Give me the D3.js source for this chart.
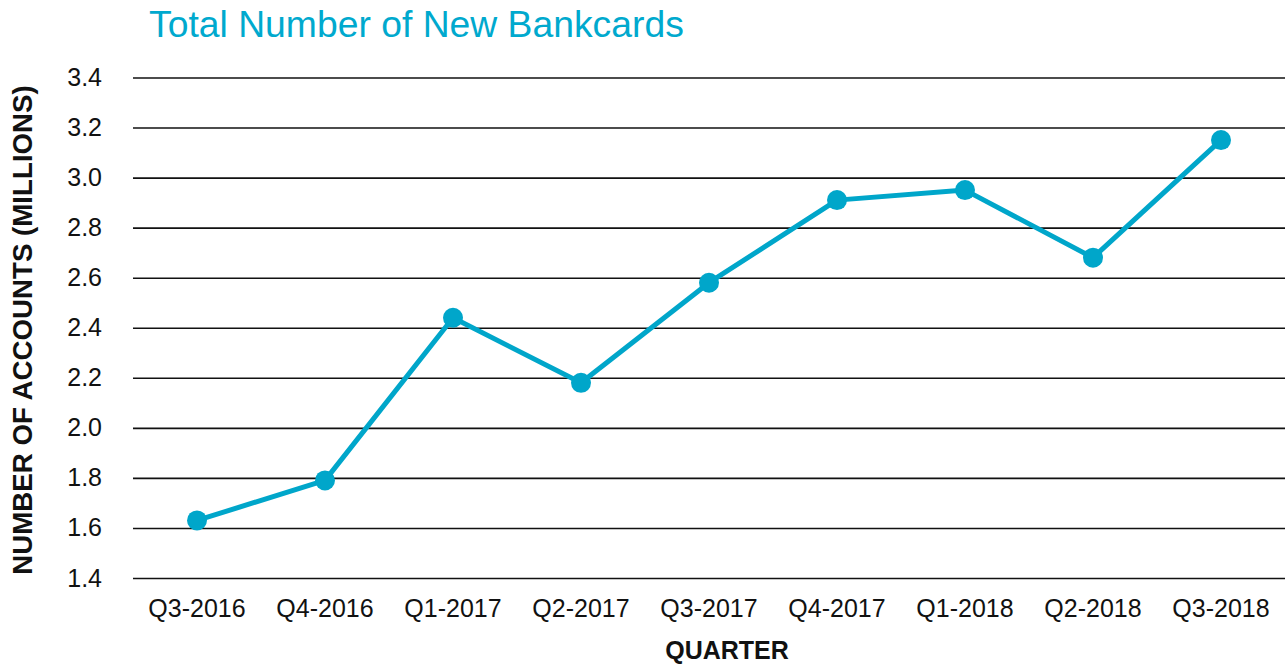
<!DOCTYPE html>
<meta charset="utf-8">
<style>
  body { margin: 0; background: #fff; }
  text { font-family: "Liberation Sans", Arial, sans-serif; }
</style>
<body>
<script src="https://d3js.org/d3.v7.min.js"></script>
<script>

// data
var quarters = ["Q3-2016", "Q4-2016", "Q1-2017", "Q2-2017", "Q3-2017",
                "Q4-2017", "Q1-2018", "Q2-2018", "Q3-2018"];
var accounts = [1.63, 1.79, 2.44, 2.18, 2.58, 2.91, 2.95, 2.68, 3.15];
var yTicks = [1.4, 1.6, 1.8, 2.0, 2.2, 2.4, 2.6, 2.8, 3.0, 3.2, 3.4];

var W = 1287, H = 668;
var margin = {top: 77.5, right: 2, bottom: 90, left: 133};
var width = W - margin.left - margin.right,
    height = H - margin.top - margin.bottom;
var teal = "#00a6ca";

var svg = d3.select("body").append("svg")
    .attr("width", W)
    .attr("height", H);

var g = svg.append("g")
    .attr("transform", "translate(" + margin.left + "," + margin.top + ")");

// scales
var x = d3.scaleBand()
    .domain(quarters)
    .range([0, width]);
var y = d3.scaleLinear()
    .domain([1.4, 3.4])
    .range([height, 0]);

// gridlines + y labels
var yAxis = g.append("g")
    .call(d3.axisLeft(y).tickValues(yTicks)
      .tickFormat(d3.format(".1f"))
      .tickSize(-width).tickPadding(31));
yAxis.select(".domain").remove();
yAxis.selectAll(".tick line")
    .attr("stroke", "#111")
    .attr("stroke-width", 1.6);
yAxis.selectAll(".tick text")
    .attr("fill", "#111")
    .style("font-size", "25px")
    .style("font-family", "'Liberation Sans', Arial, sans-serif");

// x labels
var xAxis = g.append("g")
    .attr("transform", "translate(0," + height + ")")
    .call(d3.axisBottom(x).tickSize(0).tickPadding(21));
xAxis.select(".domain").remove();
xAxis.selectAll(".tick text")
    .attr("fill", "#111")
    .style("font-size", "25px")
    .style("font-family", "'Liberation Sans', Arial, sans-serif");

// the line
var line = d3.line()
    .x(function(d, i) { return x(quarters[i]) + x.bandwidth() / 2; })
    .y(function(d) { return y(d); });

g.append("path")
    .datum(accounts)
    .attr("fill", "none")
    .attr("stroke", teal)
    .attr("stroke-width", 5)
    .attr("stroke-linejoin", "round")
    .attr("d", line);

g.selectAll("circle")
    .data(accounts)
  .enter().append("circle")
    .attr("cx", function(d, i) { return x(quarters[i]) + x.bandwidth() / 2; })
    .attr("cy", function(d) { return y(d); })
    .attr("r", 10)
    .attr("fill", teal);

// titles
svg.append("text")
    .attr("x", 149)
    .attr("y", 37)
    .attr("fill", "#00a9ce")
    .style("font-size", "37.3px")
    .text("Total Number of New Bankcards");

svg.append("text")
    .attr("x", 727)
    .attr("y", 659)
    .attr("text-anchor", "middle")
    .attr("fill", "#111")
    .style("font-size", "25px")
    .style("font-weight", "bold")
    .text("QUARTER");

svg.append("text")
    .attr("transform", "translate(32,330) rotate(-90)")
    .attr("text-anchor", "middle")
    .attr("fill", "#111")
    .style("font-size", "27.7px")
    .style("font-weight", "bold")
    .text("NUMBER OF ACCOUNTS (MILLIONS)");

</script>
</body>
